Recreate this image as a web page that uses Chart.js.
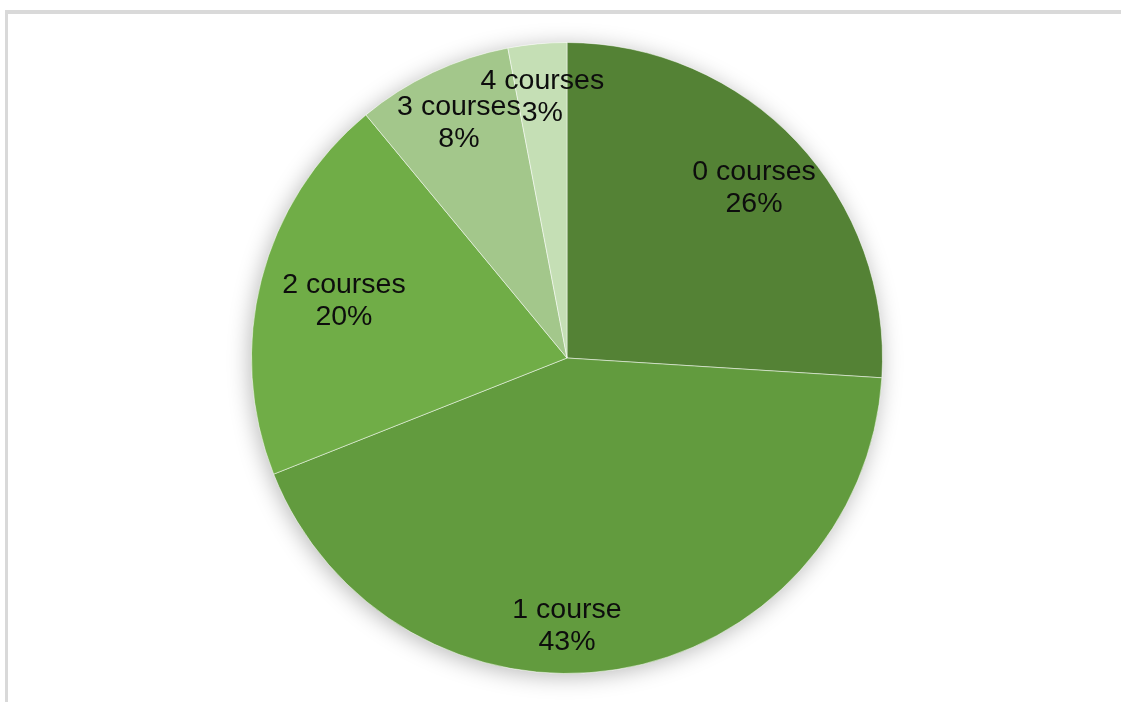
<!DOCTYPE html>
<html>
<head>
<meta charset="utf-8">
<script src="https://cdn.jsdelivr.net/npm/chart.js@4.4.1/dist/chart.umd.min.js"></script>
<style>
  html, body { margin: 0; padding: 0; background: #ffffff; overflow: hidden; }
  #frame { position: absolute; left: 5px; top: 10px; width: 1130px; height: 710px;
           border-top: 4px solid #d9d9d9; border-left: 3px solid #d9d9d9; box-sizing: border-box; }
  #wrap { position: absolute; left: 0; top: 0; width: 1121px; height: 702px; }
</style>
</head>
<body>
<div id="frame"></div>
<div id="wrap"><canvas id="c" width="1121" height="702"></canvas></div>
<script>
const categories = ["0 courses", "1 course", "2 courses", "3 courses", "4 courses"];
const percentages = [26, 43, 20, 8, 3];
const sliceColors = ["#548235", "#629b3e", "#70ad47", "#a3c78b", "#c5dfb5"];
const labelRadius = [0.80, 0.85, 0.73, 0.82, 0.83];
const labelAngleShiftDeg = [1, 9, 0, 0.5, 0];

const shadowPlugin = {
  id: 'pieShadow',
  beforeDatasetsDraw(chart) {
    const arc = chart.getDatasetMeta(0).data[0];
    if (!arc) return;
    const ctx = chart.ctx;
    ctx.save();
    ctx.shadowColor = 'rgba(0,0,0,0.28)';
    ctx.shadowBlur = 22;
    ctx.shadowOffsetX = -2;
    ctx.shadowOffsetY = 3;
    ctx.fillStyle = '#ffffff';
    ctx.beginPath();
    ctx.arc(arc.x, arc.y, arc.outerRadius, 0, Math.PI * 2);
    ctx.fill();
    ctx.restore();
  }
};

const labelPlugin = {
  id: 'sliceLabels',
  afterDatasetsDraw(chart) {
    const ctx = chart.ctx;
    const meta = chart.getDatasetMeta(0);
    ctx.save();
    ctx.font = '28.5px "Liberation Sans", Arial, sans-serif';
    ctx.fillStyle = '#0d0d0d';
    ctx.textAlign = 'center';
    ctx.textBaseline = 'middle';
    meta.data.forEach((arc, i) => {
      const mid = (arc.startAngle + arc.endAngle) / 2 + labelAngleShiftDeg[i] * Math.PI / 180;
      const r = arc.outerRadius * labelRadius[i];
      const x = arc.x + Math.cos(mid) * r;
      const y = arc.y + Math.sin(mid) * r;
      ctx.fillText(categories[i], x, y - 16);
      ctx.fillText(percentages[i] + '%', x, y + 16);
    });
    ctx.restore();
  }
};

new Chart(document.getElementById('c'), {
  type: 'pie',
  data: {
    labels: categories,
    datasets: [{
      data: percentages,
      backgroundColor: sliceColors,
      borderColor: 'rgba(255,255,255,0.5)',
      borderWidth: 1
    }]
  },
  options: {
    responsive: false,
    animation: false,
    layout: { padding: { top: 42, bottom: 28, left: 13, right: 0 } },
    plugins: { legend: { display: false }, tooltip: { enabled: false } }
  },
  plugins: [shadowPlugin, labelPlugin]
});
</script>
</body>
</html>
